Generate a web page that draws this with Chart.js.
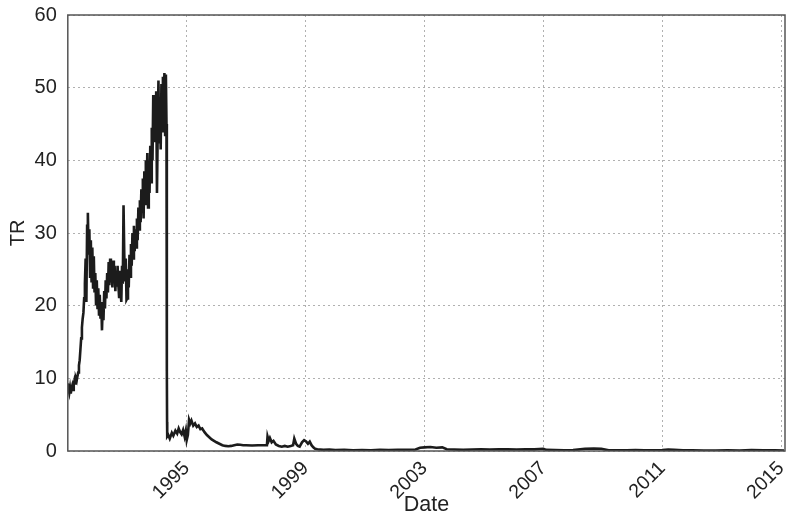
<!DOCTYPE html>
<html><head><meta charset="utf-8">
<script src="https://cdn.jsdelivr.net/npm/chart.js@4/dist/chart.umd.min.js"></script>
<style>html,body{margin:0;padding:0;background:#fff}#wrap{width:791px;height:521px}</style>
</head><body><div id="wrap"><canvas id="c" width="791" height="521"></canvas></div>
<script>
const dates = [
1991.000,1991.025,1991.050,1991.075,1991.100,1991.125,1991.150,1991.175,1991.200,1991.225,
1991.250,1991.275,1991.300,1991.325,1991.350,1991.375,1991.400,1991.425,1991.450,1991.475,
1991.500,1991.525,1991.550,1991.575,1991.600,1991.625,1991.650,1991.675,1991.700,1991.725,
1991.750,1991.775,1991.800,1991.825,1991.850,1991.875,1991.900,1991.925,1991.950,1991.975,
1992.000,1992.025,1992.050,1992.075,1992.100,1992.125,1992.150,1992.175,1992.200,1992.225,
1992.250,1992.275,1992.300,1992.325,1992.350,1992.375,1992.400,1992.425,1992.450,1992.475,
1992.500,1992.525,1992.550,1992.575,1992.600,1992.625,1992.650,1992.675,1992.700,1992.725,
1992.750,1992.775,1992.800,1992.825,1992.850,1992.875,1992.900,1992.925,1992.950,1992.975,
1993.000,1993.025,1993.050,1993.075,1993.100,1993.125,1993.150,1993.175,1993.200,1993.225,
1993.250,1993.275,1993.300,1993.325,1993.350,1993.375,1993.400,1993.425,1993.450,1993.475,
1993.500,1993.525,1993.550,1993.575,1993.600,1993.625,1993.650,1993.675,1993.700,1993.725,
1993.750,1993.775,1993.800,1993.825,1993.850,1993.875,1993.900,1993.925,1993.950,1993.975,
1994.000,1994.025,1994.050,1994.075,1994.100,1994.125,1994.150,1994.175,1994.200,1994.225,
1994.250,1994.275,1994.300,1994.320,1994.330,1994.335,1994.340,1994.345,
1994.38,1994.43,1994.50,1994.55,1994.62,1994.68,1994.73,1994.78,1994.83,1994.88,1994.93,1994.97,
1995.00,1995.04,1995.08,1995.12,1995.16,1995.22,1995.28,1995.34,1995.40,1995.46,1995.52,1995.60,
1995.68,1995.76,1995.84,1995.92,1996.00,1996.10,1996.20,1996.30,1996.40,1996.50,1996.60,1996.70,
1996.80,1996.90,1997.00,1997.20,1997.40,1997.60,1997.70,1997.72,1997.76,1997.80,1997.86,1997.92,
1998.00,1998.10,1998.20,1998.30,1998.40,1998.50,1998.58,1998.62,1998.68,1998.74,1998.80,1998.88,
1998.95,1999.02,1999.08,1999.14,1999.20,1999.26,1999.32,
1999.40,1999.60,1999.80,2000.00,2000.30,2000.60,2000.90,2001.20,2001.50,2001.80,2002.10,2002.40,
2002.70,2002.85,2003.00,2003.20,2003.40,2003.60,2003.75,2004.00,2004.30,2004.60,2004.90,2005.20,
2005.50,2005.80,2006.10,2006.40,2006.70,2007.00,2007.10,2007.40,2007.70,2008.00,2008.40,2008.70,
2008.95,2009.20,2009.50,2009.80,2010.10,2010.40,2010.70,2011.00,2011.20,2011.40,2011.70,2012.00,
2012.40,2012.80,2013.20,2013.60,2014.00,2014.40,2014.80,2015.10
];
const tr = [
9.3,8.5,8.0,8.7,7.9,8.6,9.0,8.4,9.1,9.7,
9.3,10.0,9.7,10.3,10.8,11.8,12.5,14.0,15.5,17.0,
18.2,19.0,21.0,23.0,26.5,20.5,31.0,32.8,27.0,30.5,
24.0,29.0,23.2,28.0,22.5,26.8,21.8,24.5,20.2,23.5,
19.5,22.4,18.8,21.5,18.2,20.5,16.6,20.0,18.0,22.0,
19.6,23.5,21.0,24.5,21.8,26.0,22.8,26.5,23.2,25.8,
22.5,26.2,23.4,25.5,22.0,24.8,22.6,25.5,23.0,21.2,
24.8,22.0,20.5,25.5,23.0,33.8,27.0,23.5,26.5,20.8,
21.0,25.0,22.5,27.0,24.0,28.5,25.5,30.0,26.5,31.0,
27.5,30.5,28.0,32.0,29.0,33.5,30.5,34.5,31.5,36.0,
33.0,37.5,32.0,38.5,34.0,40.0,35.0,41.0,33.5,39.5,
35.5,42.0,37.0,44.5,40.0,49.0,42.5,47.0,43.0,49.5,
35.5,44.0,51.0,42.5,48.0,41.5,50.5,44.0,51.5,46.0,
52.0,43.5,51.8,45.0,32.0,11.0,4.0,2.0,
2.2,1.7,2.5,2.1,2.8,2.4,3.1,2.6,2.3,2.9,2.0,2.8,
1.5,2.2,4.3,3.8,4.2,3.5,3.8,3.3,3.5,3.0,3.1,2.6,
2.2,1.9,1.6,1.4,1.2,1.0,0.8,0.7,0.65,0.7,0.8,0.9,
0.85,0.8,0.8,0.75,0.8,0.8,0.8,2.0,1.4,1.8,1.2,1.4,
0.9,0.7,0.6,0.7,0.6,0.7,0.8,1.7,1.0,0.7,0.6,1.2,
1.5,1.3,1.0,1.3,0.8,0.5,0.3,
0.25,0.15,0.2,0.12,0.15,0.1,0.12,0.1,0.15,0.12,0.15,0.18,
0.2,0.45,0.5,0.55,0.45,0.5,0.25,0.2,0.15,0.2,0.22,0.2,
0.25,0.22,0.2,0.25,0.22,0.3,0.15,0.12,0.1,0.12,0.3,0.35,
0.3,0.1,0.08,0.1,0.12,0.1,0.1,0.12,0.2,0.15,0.1,0.08,
0.06,0.05,0.08,0.06,0.12,0.1,0.08,0.06
];
const xTicks = [1995,1999,2003,2007,2011,2015];
const yTicks = [0,10,20,30,40,50,60];

const FAM = '"Liberation Sans", Arial, Helvetica, sans-serif';
const points = dates.map((d,i)=>({x:d,y:tr[i]}));

const frame = {id:'frame', afterDatasetsDraw(chart){
  const {ctx, chartArea:a} = chart;
  ctx.save(); ctx.strokeStyle='#555'; ctx.lineWidth=1.5;
  ctx.strokeRect(a.left,a.top,a.right-a.left,a.bottom-a.top);
  ctx.restore();
}};

new Chart(document.getElementById('c'), {
  type:'line',
  data:{datasets:[{data:points, borderColor:'#1c1c1c', borderWidth:2.6, pointRadius:0, tension:0, fill:false}]},
  options:{
    responsive:false, animation:false,
    layout:{padding:{top:15,right:6,left:0,bottom:0}},
    plugins:{legend:{display:false}, tooltip:{enabled:false}},
    scales:{
      x:{type:'linear', min:1991.0, max:2015.13,
        afterBuildTicks:s=>{s.ticks = xTicks.map(v=>({value:v}));},
        ticks:{autoSkip:false, maxRotation:45, minRotation:45, padding:6, color:'#222',
          font:{family:FAM,size:19.5}, callback:v=>String(v)},
        grid:{color:'#b0b0b0', lineWidth:1, drawTicks:false},
        border:{display:false, dash:[2,3]},
        title:{display:true, text:'Date', color:'#222', font:{family:FAM,size:21.5}, padding:{top:0,bottom:3}},
        afterFit:s=>{s.height=70; s.paddingLeft=0; s.paddingRight=0;}
      },
      y:{min:0, max:60,
        afterBuildTicks:s=>{s.ticks = yTicks.map(v=>({value:v}));},
        ticks:{padding:11, color:'#222', font:{family:FAM,size:20}},
        grid:{color:'#b0b0b0', lineWidth:1, drawTicks:false},
        border:{display:false, dash:[2,3]},
        title:{display:true, text:'TR', color:'#222', font:{family:FAM,size:20}, padding:{top:6,bottom:0}},
        afterFit:s=>{s.width=67.8; s.paddingTop=0; s.paddingBottom=0;}
      }
    }
  },
  plugins:[frame]
});
</script>
</body></html>
